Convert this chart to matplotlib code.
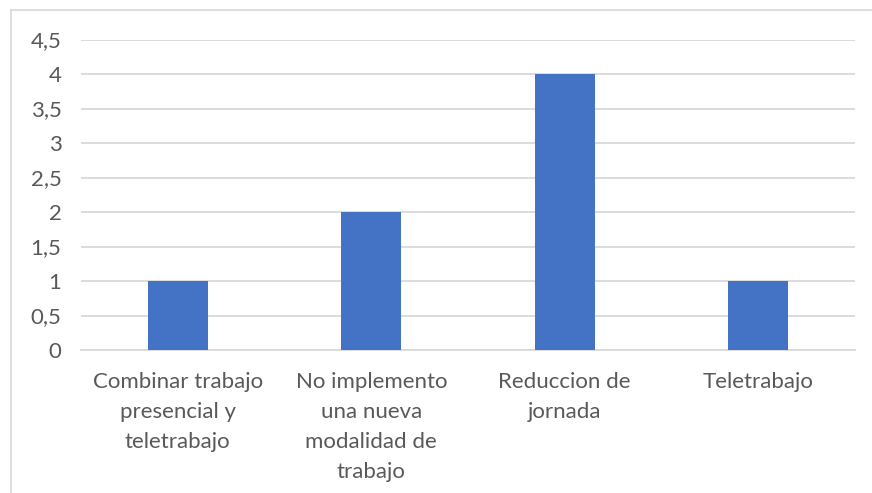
import matplotlib.pyplot as plt
from matplotlib.lines import Line2D

categorias = ["Combinar trabajo\npresencial y\nteletrabajo",
              "No implemento\nuna nueva\nmodalidad de\ntrabajo",
              "Reduccion de\njornada",
              "Teletrabajo"]
valores = [1, 2, 4, 1]
ticks_y = [0, 0.5, 1, 1.5, 2, 2.5, 3, 3.5, 4, 4.5]

gris = "#595959"
plt.rcParams["font.family"] = ["Lato", "DejaVu Sans"]

fig = plt.figure(figsize=(8.72, 4.93), dpi=100)
ax = fig.add_axes([81 / 872, 1 - 350 / 493, (855 - 81) / 872, (350 - 39.5) / 493])

ax.bar(range(len(valores)), valores, width=0.31, color="#4472c4", zorder=3)
ax.set_xlim(-0.5, len(valores) - 0.5)
ax.set_ylim(0, 4.5)
ax.set_yticks(ticks_y)
ax.set_yticklabels([f"{t:g}".replace(".", ",") for t in ticks_y])
ax.set_xticks(range(len(valores)))
ax.set_xticklabels(categorias, linespacing=1.62)
ax.tick_params(axis="both", length=0, colors=gris, labelsize=16)
ax.tick_params(axis="y", pad=14)
ax.tick_params(axis="x", pad=16)
ax.grid(axis="y", color="#d9d9d9", linewidth=1.3, zorder=0)
for s in ["top", "right", "left"]:
    ax.spines[s].set_visible(False)
ax.spines["bottom"].set_color("#d9d9d9")
ax.spines["bottom"].set_linewidth(1.3)

# marco del grafico
fig.add_artist(Line2D([11 / 872, 11 / 872], [0, 1 - 10 / 493], transform=fig.transFigure,
                      color="#d9d9d9", linewidth=1.2))
fig.add_artist(Line2D([11 / 872, 1], [1 - 10 / 493, 1 - 10 / 493], transform=fig.transFigure,
                      color="#d9d9d9", linewidth=1.2))

fig.savefig("out.png", dpi=100)
